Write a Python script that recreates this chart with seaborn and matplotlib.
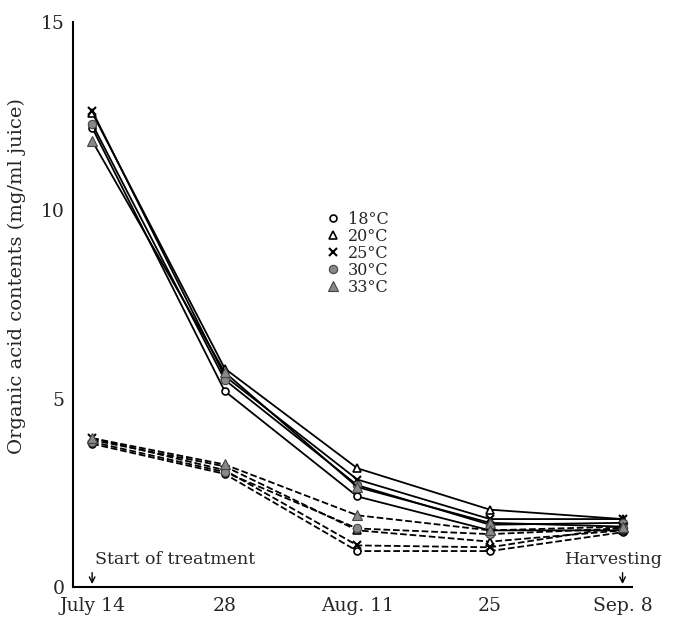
import pandas as pd
import seaborn as sns
import matplotlib.pyplot as plt
from matplotlib.lines import Line2D

# days after July 14
days = [0, 14, 28, 42, 56]
day_labels = ['July 14', '28', 'Aug. 11', '25', 'Sep. 8']
temps = ['18°C', '20°C', '25°C', '30°C', '33°C']

# upper group (solid lines)
solid_18 = [12.2, 5.2, 2.4, 1.5, 1.5]
solid_20 = [12.6, 5.8, 3.15, 2.05, 1.8]
solid_25 = [12.65, 5.6, 2.85, 1.8, 1.8]
solid_30 = [12.3, 5.5, 2.7, 1.65, 1.7]
solid_33 = [11.85, 5.7, 2.65, 1.7, 1.6]

# lower group (dashed lines)
dash_18 = [3.8, 3.0, 0.95, 0.95, 1.45]
dash_20 = [3.9, 3.2, 1.5, 1.2, 1.5]
dash_25 = [3.95, 3.1, 1.1, 1.05, 1.6]
dash_30 = [3.85, 3.05, 1.55, 1.4, 1.55]
dash_33 = [3.95, 3.25, 1.9, 1.5, 1.6]

solid = [solid_18, solid_20, solid_25, solid_30, solid_33]
dashed = [dash_18, dash_20, dash_25, dash_30, dash_33]

rows = []
for t, vals in zip(temps, solid):
    for d, v in zip(days, vals):
        rows.append({'day': d, 'acid': v, 'temp': t, 'group': 'solid'})
for t, vals in zip(temps, dashed):
    for d, v in zip(days, vals):
        rows.append({'day': d, 'acid': v, 'temp': t, 'group': 'dashed'})
df = pd.DataFrame(rows)

marker_style = {
    '18°C': dict(marker='o', mfc='white', mec='black', ms=5, mew=1.2),
    '20°C': dict(marker='^', mfc='white', mec='black', ms=6, mew=1.2),
    '25°C': dict(marker='x', mfc='black', mec='black', ms=6, mew=1.5),
    '30°C': dict(marker='o', mfc='#888888', mec='#444444', ms=6, mew=0.8),
    '33°C': dict(marker='^', mfc='#888888', mec='#444444', ms=7, mew=0.8),
}

sns.set_style('white')
plt.rcParams['font.family'] = ['DejaVu Serif', 'Liberation Serif']
fs = 12.5

fig = plt.figure(figsize=(6.84, 6.19), dpi=100)
ax = fig.add_axes([0.107, 0.052, 0.817, 0.912])

for g, ls in [('solid', '-'), ('dashed', '--')]:
    for t in temps:
        sub = df[(df['group'] == g) & (df['temp'] == t)]
        sns.lineplot(data=sub, x='day', y='acid', ax=ax, color='black',
                     linestyle=ls, linewidth=1.3, **marker_style[t])

ax.set_xlim(-2.0, 57.0)
ax.set_ylim(0, 15)
ax.set_xticks(days)
ax.set_xticklabels(day_labels, fontsize=13.5)
ax.set_yticks([0, 5, 10, 15])
ax.set_yticklabels(['0', '5', '10', '15'], fontsize=13.5)
ax.tick_params(axis='y', direction='in', length=4, width=1, pad=6)
ax.tick_params(axis='x', length=0, pad=7)
ax.set_xlabel('')
ax.set_ylabel('Organic acid contents (mg/ml juice)', fontsize=14)
ax.yaxis.set_label_coords(-0.085, 0.55)

for s in ['top', 'right']:
    ax.spines[s].set_visible(False)
for s in ['left', 'bottom']:
    ax.spines[s].set_color('black')
    ax.spines[s].set_linewidth(1.5)

# arrows at start and harvest
for d in [days[0], days[-1]]:
    ax.annotate('', xy=(d, 0), xytext=(d, 0.45),
                arrowprops=dict(arrowstyle='->', color='black', lw=1.0))
ax.text(0.3, 0.5, 'Start of treatment', fontsize=fs, ha='left', va='bottom')
ax.text(60.3, 0.5, 'Harvesting', fontsize=fs, ha='right', va='bottom')

handles = [Line2D([], [], linestyle='none', color='black', **marker_style[t]) for t in temps]
ax.legend(handles, temps, loc='upper left', bbox_to_anchor=(0.44, 0.68),
          frameon=False, fontsize=11.5, handlelength=0.8, handletextpad=0.5,
          labelspacing=0.0, borderpad=0)

fig.savefig('out.png', dpi=100)
